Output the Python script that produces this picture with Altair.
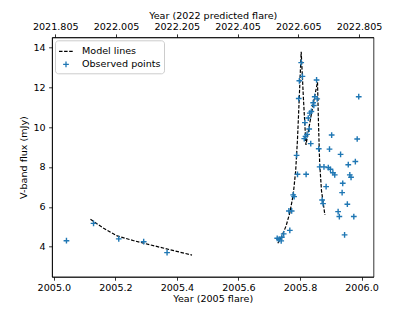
import altair as alt
import pandas as pd

# ---------------- data ----------------
obs_year = [2005.041, 2005.129, 2005.211, 2005.292, 2005.368,
            2005.726, 2005.732, 2005.739, 2005.741, 2005.747, 2005.767,
            2005.764, 2005.773, 2005.778, 2005.781, 2005.789, 2005.792,
            2005.820, 2005.796, 2005.798, 2005.804, 2005.808, 2005.814,
            2005.818, 2005.816, 2005.823, 2005.830, 2005.835, 2005.827,
            2005.832, 2005.837, 2005.845, 2005.843, 2005.848, 2005.856,
            2005.854, 2005.861, 2005.864, 2005.878, 2005.892, 2005.899,
            2005.907, 2005.913, 2005.896, 2005.903, 2005.932, 2005.957,
            2005.980, 2005.986, 2005.991, 2005.962, 2005.966, 2005.885,
            2005.939, 2005.937, 2005.872, 2005.875, 2005.954, 2005.924,
            2005.928, 2005.975, 2005.945]
obs_flux = [4.30, 5.17, 4.39, 4.25, 3.70,
            4.42, 4.37, 4.29, 4.47, 4.64, 4.82,
            5.79, 5.79, 6.60, 6.51, 8.58, 7.63,
            7.63, 11.43, 12.32, 13.23, 12.54, 9.42,
            9.53, 10.22, 9.63, 9.90, 9.17, 10.45,
            10.70, 10.78, 11.08, 11.22, 11.52, 11.41,
            12.36, 8.91, 8.00, 8.00, 7.97, 7.88,
            7.71, 7.60, 8.89, 9.60, 8.63, 8.11,
            8.27, 9.40, 11.52, 7.60, 7.48, 7.01,
            7.18, 6.71, 6.34, 6.16, 6.13, 5.76,
            5.51, 5.51, 4.59]

pre_model_year = [2005.119, 2005.162, 2005.206, 2005.260, 2005.314, 2005.390, 2005.449]
pre_model_flux = [5.37, 4.92, 4.54, 4.30, 4.09, 3.80, 3.58]

flare_model_year = [2005.728, 2005.742, 2005.755, 2005.767, 2005.778, 2005.786,
                    2005.792, 2005.797, 2005.801, 2005.804, 2005.811, 2005.8195,
                    2005.833, 2005.846, 2005.857, 2005.860, 2005.864, 2005.870,
                    2005.881]
flare_model_flux = [4.17, 4.55, 5.05, 5.70, 6.60, 7.80,
                    9.40, 11.20, 12.70, 13.78, 11.50, 9.10,
                    10.30, 11.40, 12.25, 10.30, 8.20, 6.80,
                    5.59]

bottom_ticks = [2005.0, 2005.2, 2005.4, 2005.6, 2005.8, 2006.0]
top_ticks = [2021.805, 2022.005, 2022.205, 2022.405, 2022.605, 2022.805]
y_ticks = [4, 6, 8, 10, 12, 14]
series_names = ["Model lines", "Observed points"]

# ---------------- tables ----------------
model_df = pd.DataFrame({
    "year": pre_model_year + flare_model_year,
    "flux": pre_model_flux + flare_model_flux,
    "segment": ["pre"] * len(pre_model_year) + ["flare"] * len(flare_model_year),
    "idx": list(range(len(pre_model_year) + len(flare_model_year))),
    "series": series_names[0],
})
obs_df = pd.DataFrame({"year": obs_year, "flux": obs_flux, "series": series_names[1]})
top_df = pd.DataFrame({"t": top_ticks})

FONT = "DejaVu Sans"
FS = 9.6
PLUS = "M-0.41,0L0.41,0M0,-0.41L0,0.41"

legend = alt.Legend(
    title=None, orient="top-left", offset=3, padding=3,
    fillColor="white", strokeColor="#cccccc", cornerRadius=3,
    labelFont=FONT, labelFontSize=FS, labelColor="black",
    symbolSize=196, symbolStrokeWidth=1.3, rowPadding=0, labelOffset=8,
)

x_bottom = alt.X(
    "year:Q",
    scale=alt.Scale(domain=[2004.994, 2006.039], nice=False, zero=False),
    axis=alt.Axis(values=bottom_ticks, format=".1f", title="Year (2005 flare)",
                  labelPadding=2.5, titlePadding=1),
)
y_left = alt.Y(
    "flux:Q",
    scale=alt.Scale(domain=[2.49, 14.5], nice=False, zero=False),
    axis=alt.Axis(values=y_ticks, format="d", title="V-band flux (mJy)",
                  labelPadding=3.4, titlePadding=4),
)
color = alt.Color("series:N", scale=alt.Scale(domain=series_names, range=["black", "#1f77b4"]),
                  legend=legend)
shape = alt.Shape("series:N", scale=alt.Scale(domain=series_names, range=["stroke", PLUS]),
                  legend=legend)
dash = alt.StrokeDash("series:N", scale=alt.Scale(domain=series_names, range=[[3.5, 1.6], [1, 0]]),
                      legend=legend)

lines = alt.Chart(model_df).mark_line(strokeWidth=1.2).encode(
    x=x_bottom, y=y_left, color=color, strokeDash=dash,
    detail="segment:N", order="idx:Q",
)
points = alt.Chart(obs_df).mark_point(filled=False, size=196, strokeWidth=1.4, opacity=1).encode(
    x=x_bottom, y=y_left, color=color, shape=shape,
)
top = alt.Chart(top_df).mark_point(opacity=0).encode(
    x=alt.X("t:Q",
            scale=alt.Scale(domain=[2021.7943, 2022.8527], nice=False, zero=False),
            axis=alt.Axis(orient="top", values=top_ticks, format=".3f",
                          title="Year (2022 predicted flare)", labelPadding=2.5, titlePadding=1)),
)

chart = alt.layer(alt.layer(lines, points), top).resolve_scale(x="independent").properties(
    width=321.5, height=239.5,
    padding={"left": 44, "top": 29.3, "right": 30, "bottom": 28.5},
    autosize=alt.AutoSizeParams(type="none"),
).configure_view(stroke="black", strokeWidth=0.8).configure_axis(
    grid=False, domainColor="black", domainWidth=0.8, tickColor="black", tickWidth=0.8,
    tickSize=3.4, labelColor="black", titleColor="black", labelFont=FONT, titleFont=FONT,
    labelFontSize=FS, titleFontSize=FS, titleFontWeight="normal",
    labelOverlap=False, labelFlush=False, labelBound=False,
)

chart.save("out.html", embed_options={"renderer": "svg", "actions": False})
